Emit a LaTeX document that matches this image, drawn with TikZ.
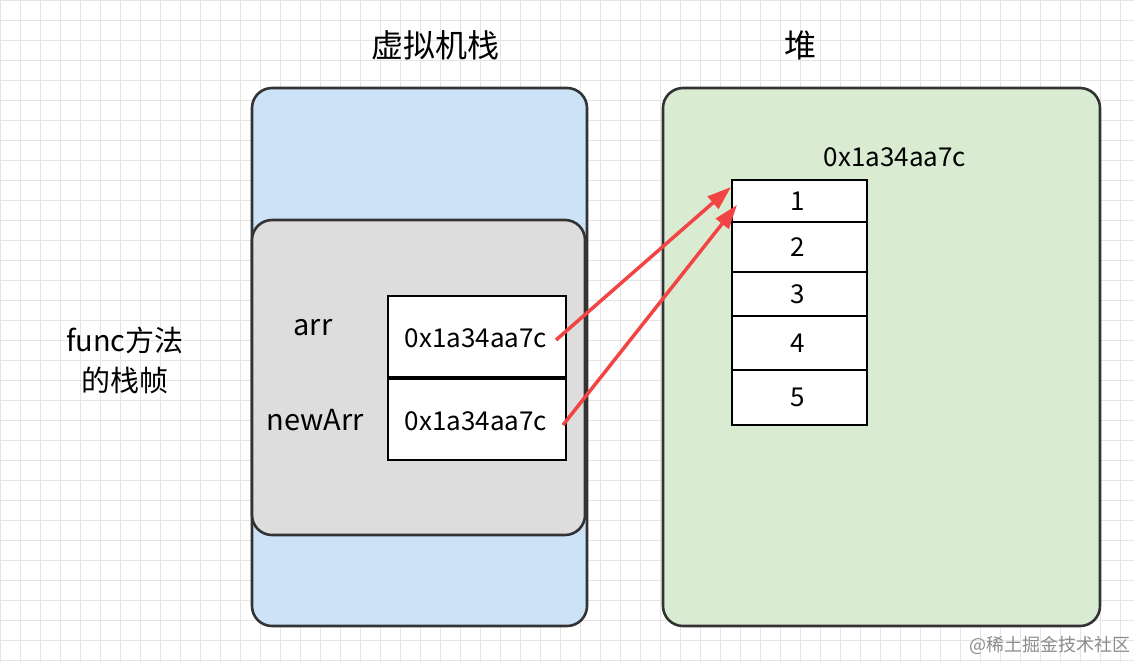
\documentclass[tikz,border=0pt]{standalone}
\usepackage{fontspec}
\setmainfont{Noto Sans CJK SC}
\usetikzlibrary{arrows.meta}
\definecolor{bluef}{HTML}{CCE2F7}
\definecolor{grayf}{HTML}{DDDDDD}
\definecolor{greenf}{HTML}{D9ECD2}
\definecolor{edge}{HTML}{333333}
\definecolor{redc}{HTML}{F24444}
\begin{document}
\begin{tikzpicture}[x=1pt,y=-1pt,
  panel/.style={draw=edge,line width=2.6pt,rounded corners=20pt},
  cell/.style={draw=black,line width=2.2pt,fill=white},
  lbl/.style={font=\fontsize{29}{34}\selectfont,inner sep=0pt},
  val/.style={font=\fontsize{26}{30}\selectfont,inner sep=0pt},
  gridl/.style={black!10,line width=0.7pt},
  arrowc/.style={draw=redc,line width=3.5pt,-{Triangle[length=24pt,width=16pt]}}]
\useasboundingbox (0,0) rectangle (1134,662);
\fill[white] (0,0) rectangle (1134,662);
\foreach \i in {0,20,...,1120} \draw[gridl] (\i,0) -- (\i,662);
\foreach \j in {0,20,...,660} \draw[gridl] (0,\j) -- (1134,\j);
\path[panel,fill=bluef] (252,88) rectangle (587,626);
\path[panel,fill=grayf] (252,220) rectangle (585,535);
\path[panel,fill=greenf] (663,88) rectangle (1100,626);
\node[lbl,font=\fontsize{32}{38}\selectfont] (t1) at (435,45) {虚拟机栈};
\node[lbl,font=\fontsize{32}{38}\selectfont] (t2) at (800,45) {堆};
\node[lbl] (f1) at (125,340) {func方法};
\node[lbl] (f2) at (125,380) {的栈帧};
\node[lbl] (arr) at (313,328) {arr};
\node[lbl] (newarr) at (315,420) {newArr};
\node[cell,minimum width=178pt,minimum height=81pt] (s1) at (477,336.5) {};
\node[cell,minimum width=178pt,minimum height=81pt] (s2) at (477,419.5) {};
\node[val] at (476,338) {0x1a34aa7c};
\node[val] at (476,421) {0x1a34aa7c};
\node[val] (addr) at (895,157) {0x1a34aa7c};
\foreach \n/\a/\b in {1/180/222,2/222/272,3/272/316,4/316/370,5/370/425}{
  \node[cell,minimum width=135pt,minimum height={\b-\a},inner sep=0pt] (h\n) at (799.5,{(\a+\b)/2}) {};
  \node[val] at (798,{(\a+\b)/2}) {\n};
}
\coordinate (a1) at (556,340);
\coordinate (a2) at (563,425);
\coordinate (e1) at (731,187);
\coordinate (e2) at (737,205);
\draw[arrowc] (a1) -- (e1);
\draw[arrowc] (a2) -- (e2);
\node[font=\fontsize{18}{20}\selectfont,text=black!45,inner sep=0pt] (wm) at (1050,645) {@稀土掘金技术社区};
\end{tikzpicture}
\end{document}
